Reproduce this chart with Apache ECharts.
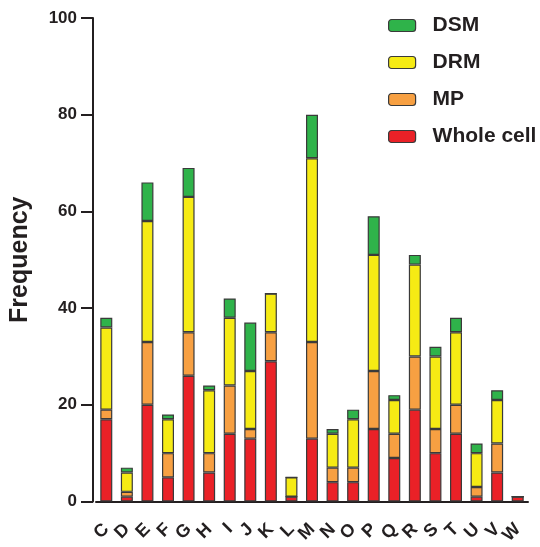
<!DOCTYPE html>
<html><head><meta charset="utf-8">
<script src="https://cdn.jsdelivr.net/npm/echarts@6/dist/echarts.min.js"></script>
<style>html,body{margin:0;padding:0;background:#fff;overflow:hidden}#c{width:540px;height:547px}</style>
</head><body><div id="c"></div>
<script>
const categories = ['C','D','E','F','G','H','I','J','K','L','M','N','O','P','Q','R','S','T','U','V','W'];
const wholeCell = [17,1,20,5,26,6,14,13,29,1,13,4,4,15,9,19,10,14,1,6,1];
const mp        = [2,1,13,5,9,4,10,2,6,0,20,3,3,12,5,11,5,6,2,6,0];
const drm       = [17,4,25,7,28,13,14,12,8,4,38,7,10,24,7,19,15,15,7,9,0];
const dsm       = [2,1,8,1,6,1,4,10,0,0,9,1,2,8,1,2,2,3,2,2,0];
const yTicks = [0,20,40,60,80,100];

const font = 'Liberation Sans, Arial, sans-serif';
const chart = echarts.init(document.getElementById('c'), null, {renderer:'canvas'});
function ser(name, data, color){
  return {name, type:'bar', stack:'all', data, barWidth:12,
    itemStyle:{color, borderColor:'#3a3a3a', borderWidth:1.2}};
}
chart.setOption({
  animation:false,
  grid:{left:95, right:12, top:18, bottom:40, containLabel:false},
  legend:{
    orient:'vertical', left:388, top:15, padding:0, itemWidth:27, itemHeight:12, itemGap:16,
    data:['DSM','DRM','MP','Whole cell'],
    textStyle:{fontFamily:font, fontWeight:'bold', fontSize:21, color:'#231f20', padding:[0,0,0,12], lineHeight:20},
    itemStyle:{borderColor:'#3a3a3a', borderWidth:1.2}
  },
  xAxis:{type:'category', data:categories,
    axisLine:{lineStyle:{color:'#231f20', width:2}},
    axisTick:{alignWithLabel:true, length:12, lineStyle:{color:'#231f20', width:2}},
    axisLabel:{rotate:45, margin:25, fontFamily:font, fontWeight:'bold', fontSize:18, color:'#231f20', interval:0}
  },
  yAxis:{type:'value', min:yTicks[0], max:yTicks[yTicks.length-1], interval:20, offset:3,
    name:'Frequency', nameLocation:'middle', nameGap:60,
    nameTextStyle:{fontFamily:font, fontWeight:'bold', fontSize:25, color:'#231f20'},
    axisLine:{show:true, lineStyle:{color:'#231f20', width:2}},
    axisTick:{show:true, length:12, lineStyle:{color:'#231f20', width:2}},
    splitLine:{show:false},
    axisLabel:{fontFamily:font, fontWeight:'bold', fontSize:17, color:'#231f20', margin:16}
  },
  series:[
    ser('Whole cell', wholeCell, '#ea2127'),
    ser('MP', mp, '#f7a042'),
    ser('DRM', drm, '#f6eb14'),
    ser('DSM', dsm, '#2fb34a')
  ]
});
</script></body></html>
